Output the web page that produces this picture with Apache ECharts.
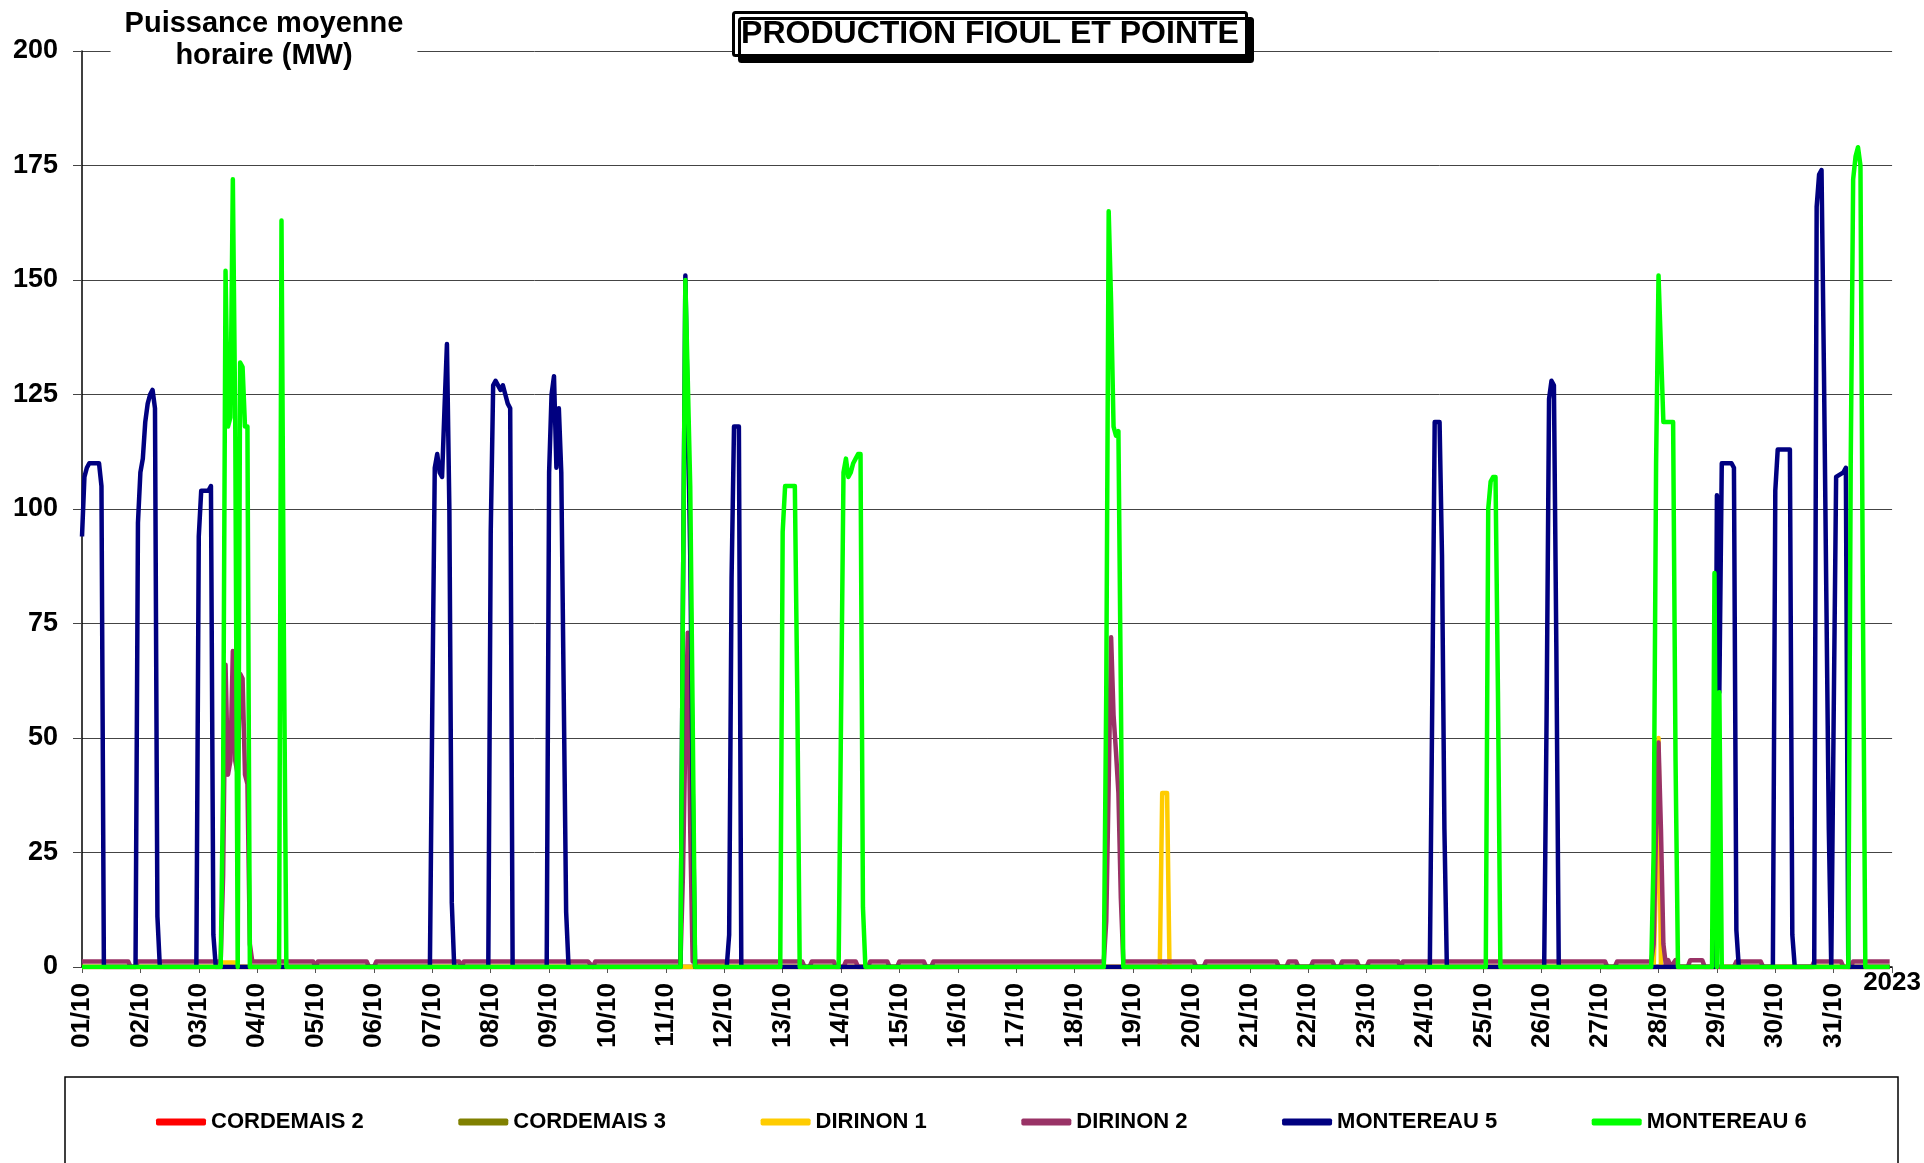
<!DOCTYPE html>
<html>
<head>
<meta charset="utf-8">
<title>Production fioul et pointe</title>
<script src="https://cdn.jsdelivr.net/npm/echarts@6/dist/echarts.min.js"></script>
<style>
  html, body { margin: 0; padding: 0; background: #fff; }
  #chart { width: 1924px; height: 1163px; }
</style>
</head>
<body>
<div id="chart"></div>
<script>
// Hourly mean power (MW), October 2023. Each series is a list of [hour, MW]
// breakpoints; hour 0 = 01/10 00:00, hour 743 = 31/10 23:00.
const dayLabels = ['01/10','02/10','03/10','04/10','05/10','06/10','07/10','08/10','09/10','10/10',
  '11/10','12/10','13/10','14/10','15/10','16/10','17/10','18/10','19/10','20/10',
  '21/10','22/10','23/10','24/10','25/10','26/10','27/10','28/10','29/10','30/10','31/10'];
const yearLabel = '2023';
const seriesNames = ['CORDEMAIS 2','CORDEMAIS 3','DIRINON 1','DIRINON 2','MONTEREAU 5','MONTEREAU 6'];

const cordemais2 = [[0,0],[743,0]];
const cordemais3 = [[0,0],[743,0]];

const dirinon1 = [[0,0],[55,0],[56,1],[63,1],[64,0],[252,0],[253,1],[264,1],[265,0],
  [443,0],[444,38],[446,38],[447,0],[646,0],[647,20],[648,50],[649,0],[743,0]];

const dirinon2 = [[0,1.2],[19,1.2],[20,0],[22,0],[23,1.2],[57,1.2],[58,20],[59,66],[60,42],[61,45],
  [62,69],[63,45],[64,42],[65,64],[66,63],[67,42],[68,40],[69,5],[70,1.2],[95,1.2],[96,0],[97,1.2],
  [117,1.2],[118,0],[120,0],[121,1.2],[155,1.2],[156,0],[157,1.2],[208,1.2],[210,0],[211,1.2],
  [246,1.2],[247,20],[248,50],[249,73],[250,30],[251,1.2],[284,1.2],[296,1.2],[297,0],[299,0],[300,1.2],
  [309,1.2],[310,0],[313,0],[314,1.2],[318,1.2],[319,0],[323,0],[324,1.2],[331,1.2],[332,0],[335,0],
  [336,1.2],[346,1.2],[347,0],[349,0],[350,1.2],[420,1.2],[421,10],[422,40],[423,72],[424,55],[425,47],
  [426,38],[427,15],[428,1.2],[457,1.2],[458,0],[461,0],[462,1.2],[491,1.2],[492,0],[495,0],[496,1.2],
  [499,1.2],[500,0],[505,0],[506,1.2],[514,1.2],[515,0],[517,0],[518,1.2],[524,1.2],[525,0],[528,0],
  [529,1.2],[541,1.2],[542,0],[543,1.2],[626,1.2],[627,0],[630,0],[631,1.2],[645,1.2],[646,5],[647,30],
  [648,49],[649,30],[650,5],[651,0.5],[652,1.5],[653,0],[655,1.5],[656,0],[660,0],[661,1.5],[666,1.5],
  [667,0],[679,0],[680,1.2],[690,1.2],[691,0],[711,0],[712,1.2],[723,1.2],[724,0],[727,0],[728,1.2],
  [741,1.2],[743,1.2]];

const montereau5 = [[0,94],[1,107],[2,109],[3,110],[7,110],[8,105],[9,0],
  [22,0],[23,97],[24,108],[25,111],[26,119],[27,123],[28,125],[29,126],[30,122],[31,11],[32,0],
  [47,0],[48,94],[49,104],[52,104],[53,105],[54,7],[55,0],
  [143,0],[144,58],[145,109],[146,112],[147,108],[148,107],[149,122],[150,136],[151,100],[152,14],[153,0],
  [167,0],[168,95],[169,127],[170,128],[171,127],[172,126],[173,127],[174,125],[175,123],[176,122],[177,0],
  [191,0],[192,108],[193,125],[194,129],[195,109],[196,122],[197,108],[198,60],[199,12],[200,0],
  [246,0],[247,80],[248,151],[249,120],[250,90],[251,40],[252,0],
  [265,0],[266,7],[267,85],[268,118],[270,118],[271,0],
  [554,0],[555,58],[556,119],[558,119],[559,90],[560,30],[561,0],
  [601,0],[602,55],[603,124],[604,128],[605,127],[606,70],[607,0],
  [671,0],[672,103],[673,60],[674,110],[678,110],[679,109],[680,8],[681,0],
  [695,0],[696,104],[697,113],[702,113],[703,7],[704,0],
  [712,0],[713,166],[714,173],[715,174],[716,130],[717,80],[718,30],[719,0],[720,55],[721,107],
  [724,108],[725,109],[726,0],[743,0]];

const montereau6 = [[0,0],
  [57,0],[58,40],[59,152],[60,118],[61,120],[62,172],[63,118],[64,0],[65,132],[66,131],[67,118],[68,118],[69,0],
  [81,0],[82,163],[83,70],[84,0],
  [246,0],[247,80],[248,150],[249,128],[250,105],[251,55],[252,0],
  [287,0],[288,95],[289,105],[293,105],[294,60],[295,0],
  [311,0],[312,55],[313,108],[314,111],[315,107],[316,108],[317,110],[318,111],[319,112],[320,112],[321,13],[322,0],
  [420,0],[421,60],[422,165],[423,145],[424,118],[425,116],[426,117],[427,60],[428,0],
  [577,0],[578,100],[579,106],[580,107],[581,107],[582,60],[583,0],
  [645,0],[646,25],[647,110],[648,151],[649,135],[650,119],[654,119],[655,45],[656,0],
  [670,0],[671,86],[672,0],[673,60],[674,0],
  [726,0],[727,110],[728,172],[729,177],[730,179],[731,175],[732,80],[733,0],
  [743,0]];

const seriesData = [cordemais2, cordemais3, dirinon1, dirinon2, montereau5, montereau6];
const seriesColors = ['#FF0000','#808000','#FFCC00','#993366','#000080','#00FF00'];

const FONT = "'Liberation Sans', Arial, sans-serif";
const chart = echarts.init(document.getElementById('chart'), null, { renderer: 'canvas' });

chart.setOption({
  animation: false,
  backgroundColor: '#ffffff',
  title: [
    {
      text: 'PRODUCTION FIOUL ET POINTE',
      left: 982, top: 12, textAlign: 'center',
      padding: [5, 8],
      backgroundColor: '#ffffff',
      borderColor: '#000', borderWidth: 3, borderRadius: 2,
      shadowColor: '#000', shadowBlur: 0, shadowOffsetX: 6, shadowOffsetY: 6,
      textStyle: { fontFamily: FONT, fontSize: 32, fontWeight: 'bold', color: '#000', lineHeight: 34 }
    },
    {
      text: 'Puissance moyenne\nhoraire (MW)',
      left: 250, top: 6, textAlign: 'center',
      padding: [2, 14],
      backgroundColor: '#ffffff',
      textStyle: { fontFamily: FONT, fontSize: 29, fontWeight: 'bold', color: '#000', lineHeight: 32 }
    }
  ],
  graphic: [
    { type: 'rect', z: -1, silent: true,
      shape: { x: 65, y: 1077, width: 1833, height: 120 },
      style: { fill: 'none', stroke: '#000', lineWidth: 1.5 } }
  ],
  legend: {
    data: seriesNames,
    left: 156, top: 1111,
    padding: 0,
    itemGap: 94.5,
    itemWidth: 50, itemHeight: 7,
    icon: 'roundRect',
    textStyle: { fontFamily: FONT, fontSize: 22, fontWeight: 'bold', color: '#000' }
  },
  grid: { left: 82, right: 31, top: 51, bottom: 196, containLabel: false },
  xAxis: {
    type: 'value',
    min: 0, max: 744, interval: 24,
    name: yearLabel,
    nameLocation: 'end',
    nameGap: 0,
    nameTextStyle: { fontFamily: FONT, fontSize: 26, fontWeight: 'bold', color: '#000',
      align: 'center', verticalAlign: 'top', padding: [3, 0, 0, 0] },
    axisLine: { show: true, lineStyle: { color: '#000', width: 1.5 } },
    axisTick: { show: true, length: 6, lineStyle: { color: '#555', width: 1 } },
    splitLine: { show: false },
    axisLabel: {
      rotate: 90, margin: 16,
      fontFamily: FONT, fontSize: 26, fontWeight: 'bold', color: '#000',
      showMinLabel: true, showMaxLabel: true,
      formatter: v => dayLabels[Math.round(v / 24)] || ''
    }
  },
  yAxis: {
    type: 'value',
    min: 0, max: 200, interval: 25,
    axisLine: { show: true, lineStyle: { color: '#000', width: 1.5 } },
    axisTick: { show: true, length: 9, lineStyle: { color: '#444', width: 1 } },
    splitLine: { show: true, lineStyle: { color: '#444', width: 1 } },
    axisLabel: { margin: 24, fontFamily: FONT, fontSize: 27, fontWeight: 'bold', color: '#000' }
  },
  series: seriesNames.map((name, i) => ({
    name: name,
    type: 'line',
    data: seriesData[i],
    showSymbol: false,
    symbol: 'none',
    smooth: false,
    color: seriesColors[i],
    lineStyle: { color: seriesColors[i], width: 4.5, join: 'round' },
    z: 2 + i
  }))
});
</script>
</body>
</html>
